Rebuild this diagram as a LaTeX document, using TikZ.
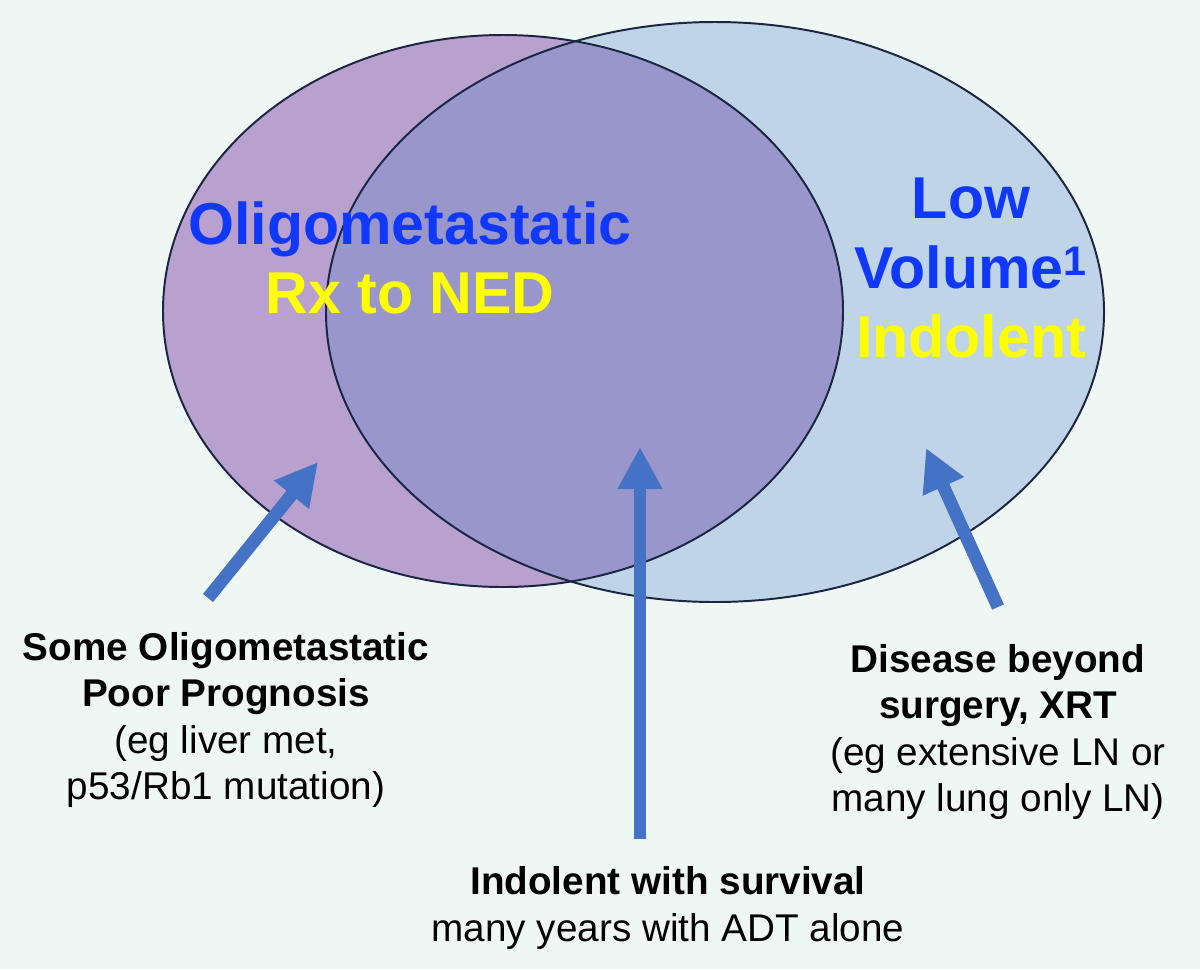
\documentclass[tikz,border=0pt]{standalone}
\usepackage{fontspec}
\setmainfont{Liberation Sans}
\definecolor{bgmint}{RGB}{239,247,244}
\definecolor{oligopurple}{RGB}{184,160,207}
\definecolor{volblue}{RGB}{192,212,232}
\definecolor{overlapviolet}{RGB}{153,150,204}
\definecolor{rimnavy}{RGB}{27,38,66}
\definecolor{arrowblue}{RGB}{68,114,196}
\definecolor{titleblue}{RGB}{16,56,252}
\definecolor{titleyellow}{RGB}{255,255,0}
\usetikzlibrary{arrows.meta,positioning}

\begin{document}
\begin{tikzpicture}[x=0.025cm, y=-0.025cm,
  bigtxt/.style={font=\fontsize{42}{49.5}\selectfont\bfseries, text=titleblue, align=center, inner sep=0pt},
  lbl/.style={font=\fontsize{27.5}{33}\selectfont, align=center, inner sep=0pt},
  fatarrow/.style={draw=arrowblue, line width=9.2pt, -{Triangle[length=30pt,width=30pt]}}]
\fill[bgmint] (0,0) rectangle (1200,969);
\useasboundingbox (0,0) rectangle (1200,969);
\fill[oligopurple] (503,311) ellipse [x radius=340, y radius=276];
\fill[volblue] (715,312) ellipse [x radius=389, y radius=290];
\begin{scope}
  \clip (503,311) ellipse [x radius=340, y radius=276];
  \fill[overlapviolet] (715,312) ellipse [x radius=389, y radius=290];
\end{scope}
\draw[rimnavy, line width=1.4pt] (503,311) ellipse [x radius=340, y radius=276];
\draw[rimnavy, line width=1.4pt] (715,312) ellipse [x radius=389, y radius=290];

\node[bigtxt] (oligo) at (410,258) {Oligometastatic\\{\color{titleyellow}Rx to NED}};
\node[bigtxt] (lowvol) at (971,268) {Low\\Volume\textsuperscript{1}\\{\color{titleyellow}Indolent}};

\node[lbl] (poor) at (226,720) {\textbf{Some Oligometastatic}\\\textbf{Poor Prognosis}\\(eg liver met,\\p53/Rb1 mutation)};
\node[lbl] (beyond) at (998,732) {\textbf{Disease beyond}\\\textbf{surgery, XRT}\\(eg extensive LN or\\many lung only LN)};
\node[lbl] (survival) at (668,908) {\textbf{Indolent with survival}\\many years with ADT alone};

\coordinate (poortail) at (208,598);
\coordinate (poortip) at (318,462);
\coordinate (survtail) at (640,839);
\coordinate (survtip) at (640,447);
\coordinate (beyondtail) at (998,607);
\coordinate (beyondtip) at (926,448);
\draw[fatarrow] (poortail) -- (poortip);
\draw[fatarrow] (survtail) -- (survtip);
\draw[fatarrow] (beyondtail) -- (beyondtip);
\end{tikzpicture}
\end{document}
